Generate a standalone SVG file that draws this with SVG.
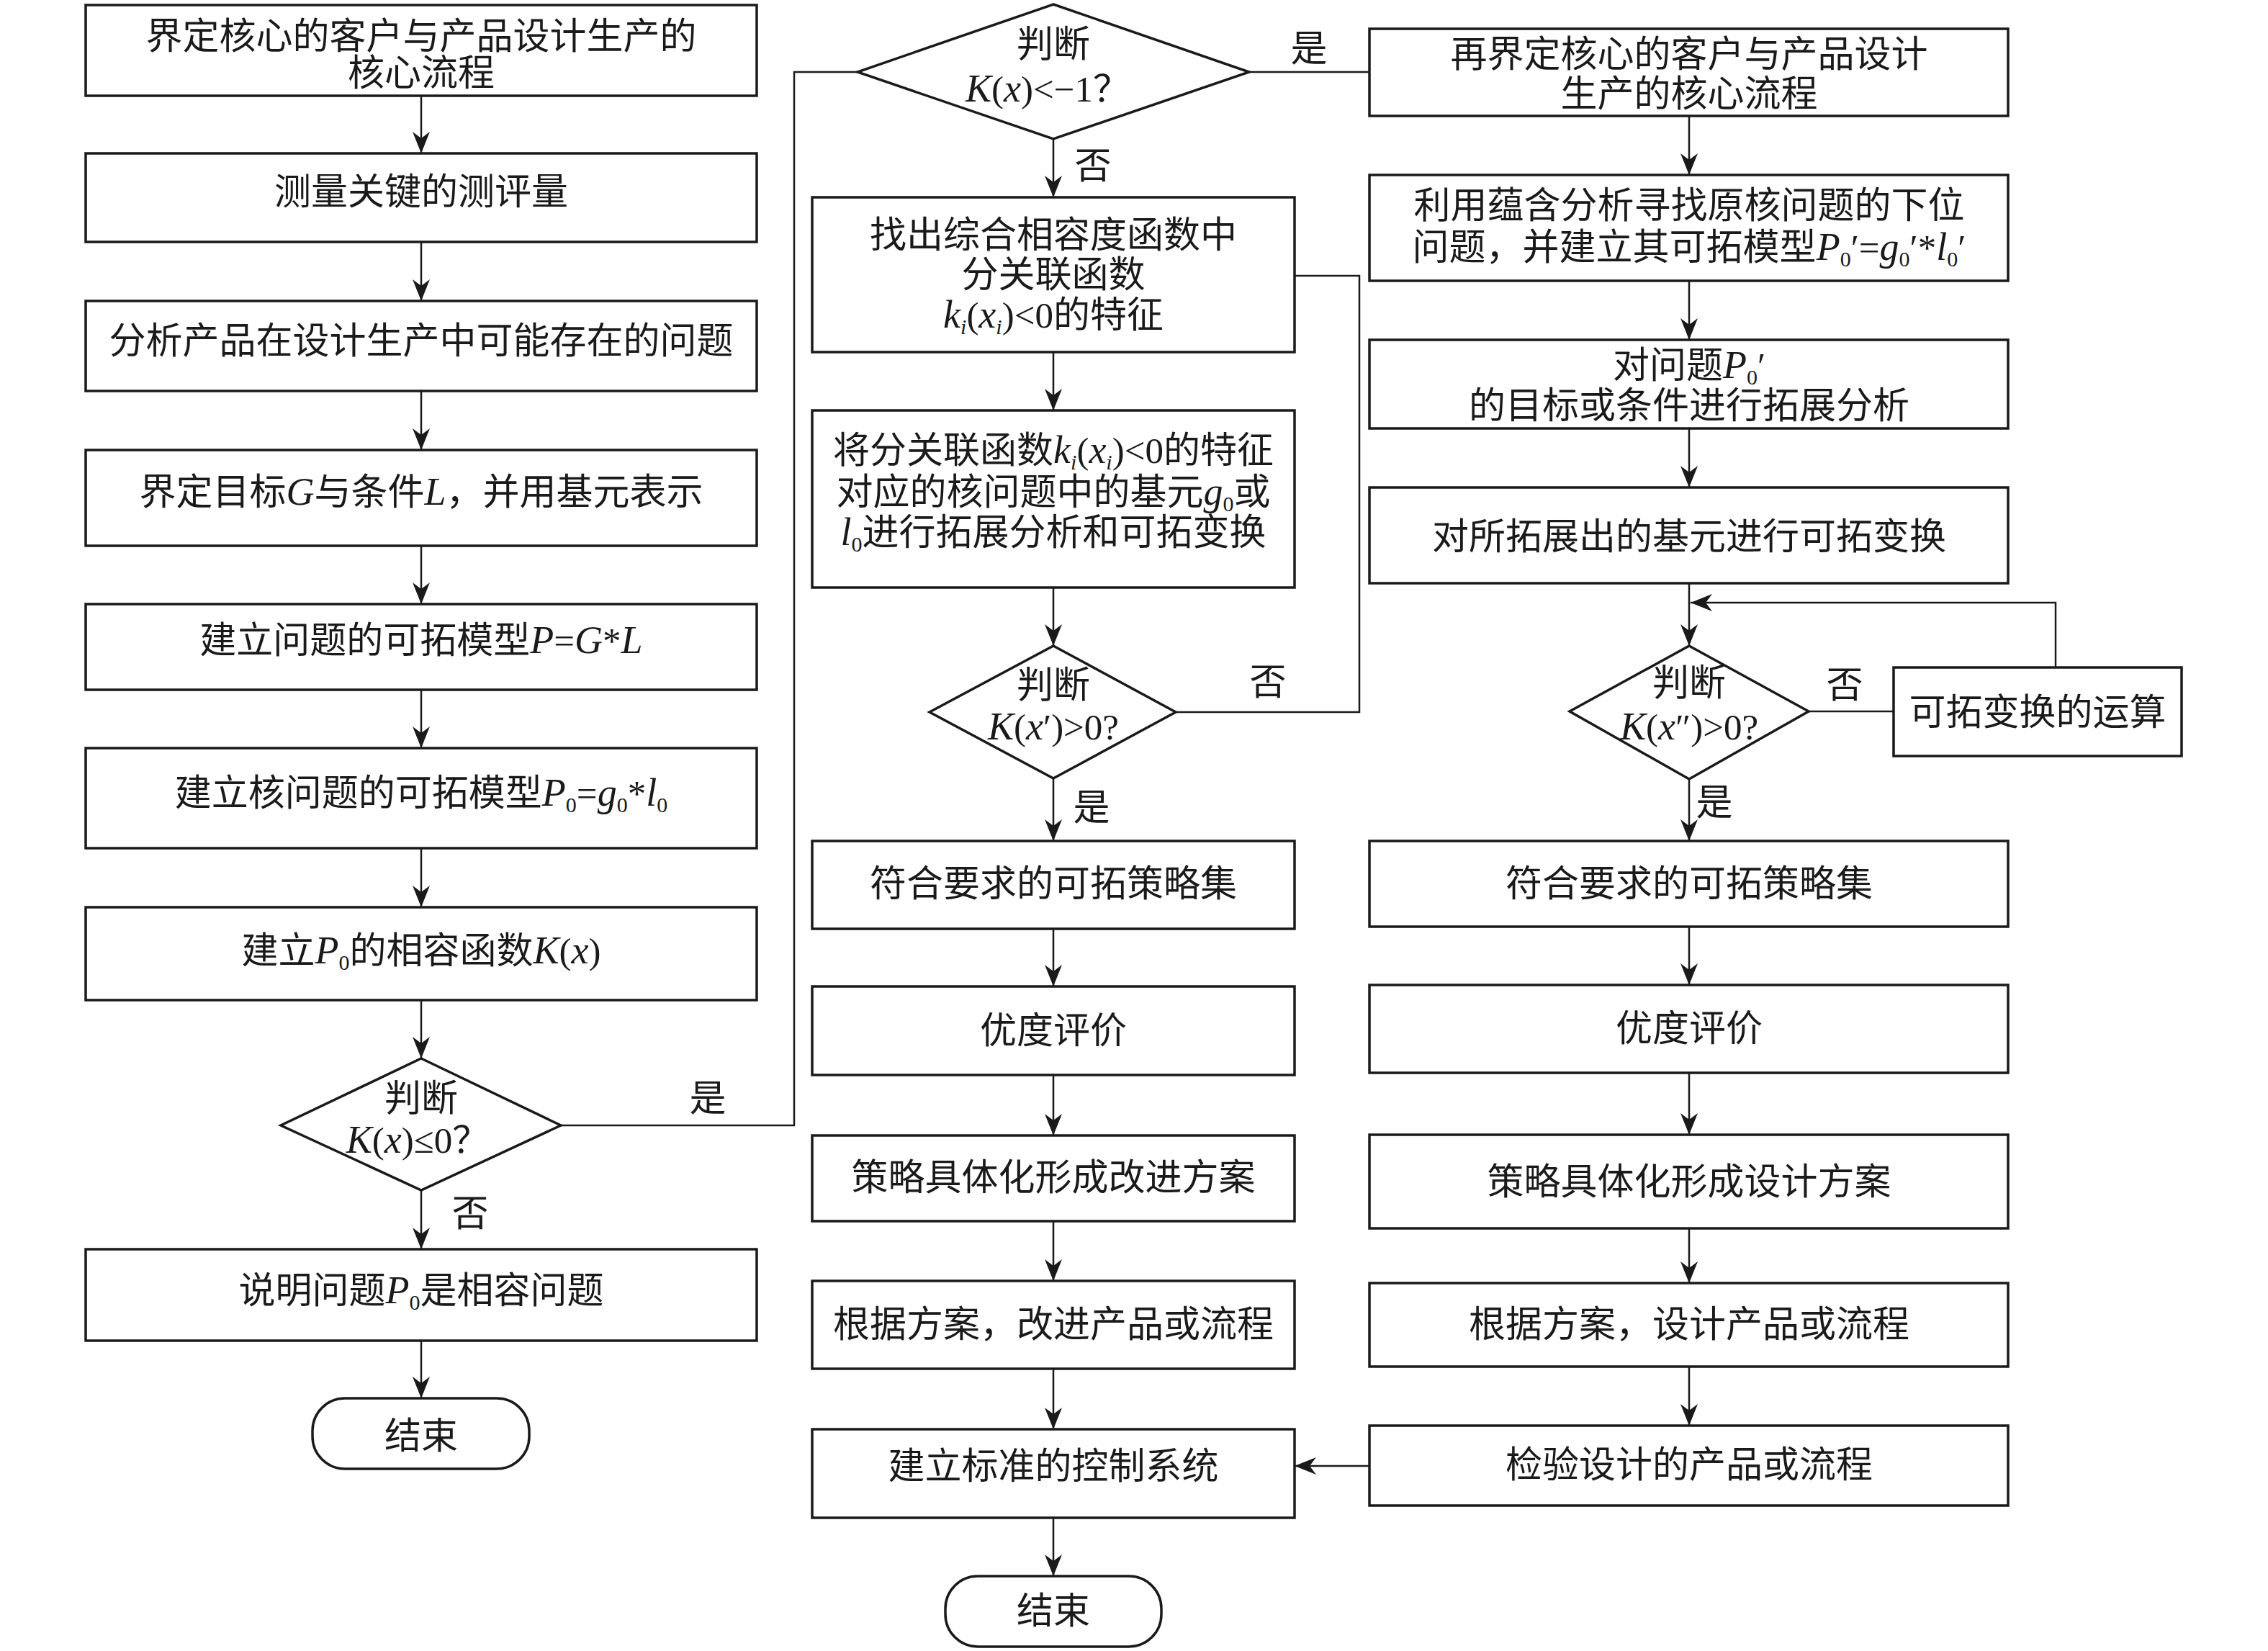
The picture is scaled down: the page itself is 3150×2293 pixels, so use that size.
<svg xmlns="http://www.w3.org/2000/svg" width="3150" height="2293" viewBox="0 0 3150 2293">
<style>
.b{fill:#fff;stroke:#1a1a1a;stroke-width:3.5}
.c{fill:none;stroke:#1a1a1a;stroke-width:2.5}
.t{font-family:'Liberation Serif','Noto Sans CJK SC',serif;font-size:51px;fill:#1a1a1a;text-anchor:middle}
.i{font-style:italic;font-size:54px}
.s{font-size:30px}
.si{font-size:30px;font-style:italic}
</style>
<defs>
<marker id="ah" markerUnits="userSpaceOnUse" viewBox="0 0 30 24" refX="30" refY="12" markerWidth="30" markerHeight="24" orient="auto">
<path d="M0,0 L30,12 L0,24 L9,12 Z" fill="#1a1a1a"/>
</marker>
</defs>
<rect width="3150" height="2293" fill="#fff"/>
<g id="connectors">
<line class="c" x1="585" y1="133" x2="585" y2="213" marker-end="url(#ah)"/>
<line class="c" x1="585" y1="336" x2="585" y2="418" marker-end="url(#ah)"/>
<line class="c" x1="585" y1="543" x2="585" y2="625" marker-end="url(#ah)"/>
<line class="c" x1="585" y1="758" x2="585" y2="839" marker-end="url(#ah)"/>
<line class="c" x1="585" y1="958" x2="585" y2="1039" marker-end="url(#ah)"/>
<line class="c" x1="585" y1="1178" x2="585" y2="1260" marker-end="url(#ah)"/>
<line class="c" x1="585" y1="1389" x2="585" y2="1470" marker-end="url(#ah)"/>
<line class="c" x1="585" y1="1653" x2="585" y2="1735" marker-end="url(#ah)"/>
<line class="c" x1="585" y1="1862" x2="585" y2="1942" marker-end="url(#ah)"/>
<polyline class="c" points="779,1563 1103,1563 1103,100 1191,100"/>
<line class="c" x1="1735" y1="100" x2="1902" y2="100"/>
<line class="c" x1="1463" y1="193" x2="1463" y2="274" marker-end="url(#ah)"/>
<line class="c" x1="1463" y1="489" x2="1463" y2="570" marker-end="url(#ah)"/>
<line class="c" x1="1463" y1="816" x2="1463" y2="897" marker-end="url(#ah)"/>
<polyline class="c" points="1633,989 1888,989 1888,383 1798,383"/>
<line class="c" x1="1463" y1="1081" x2="1463" y2="1168" marker-end="url(#ah)"/>
<line class="c" x1="1463" y1="1290" x2="1463" y2="1370" marker-end="url(#ah)"/>
<line class="c" x1="1463" y1="1493" x2="1463" y2="1577" marker-end="url(#ah)"/>
<line class="c" x1="1463" y1="1696" x2="1463" y2="1779" marker-end="url(#ah)"/>
<line class="c" x1="1463" y1="1901" x2="1463" y2="1985" marker-end="url(#ah)"/>
<line class="c" x1="1463" y1="2108" x2="1463" y2="2189" marker-end="url(#ah)"/>
<line class="c" x1="2346" y1="161" x2="2346" y2="243" marker-end="url(#ah)"/>
<line class="c" x1="2346" y1="390" x2="2346" y2="472" marker-end="url(#ah)"/>
<line class="c" x1="2346" y1="595" x2="2346" y2="677" marker-end="url(#ah)"/>
<line class="c" x1="2346" y1="810" x2="2346" y2="897" marker-end="url(#ah)"/>
<line class="c" x1="2512" y1="988" x2="2630" y2="988"/>
<polyline class="c" points="2855,927 2855,837 2348,837" marker-end="url(#ah)"/>
<line class="c" x1="2346" y1="1082" x2="2346" y2="1168" marker-end="url(#ah)"/>
<line class="c" x1="2346" y1="1287" x2="2346" y2="1368" marker-end="url(#ah)"/>
<line class="c" x1="2346" y1="1490" x2="2346" y2="1576" marker-end="url(#ah)"/>
<line class="c" x1="2346" y1="1706" x2="2346" y2="1782" marker-end="url(#ah)"/>
<line class="c" x1="2346" y1="1898" x2="2346" y2="1980" marker-end="url(#ah)"/>
<line class="c" x1="1902" y1="2036" x2="1798" y2="2036" marker-end="url(#ah)"/>
<text class="t" x="983" y="1543">是</text>
<text class="t" x="653" y="1703">否</text>
<text class="t" x="1818" y="85">是</text>
<text class="t" x="1518" y="248">否</text>
<text class="t" x="1761" y="965">否</text>
<text class="t" x="1516" y="1139">是</text>
<text class="t" x="2562" y="969">否</text>
<text class="t" x="2381" y="1132">是</text>
</g>
<g id="n1"><rect class="b" x="119" y="7" width="932" height="126"/><text class="t" x="585" y="68">界定核心的客户与产品设计生产的</text><text class="t" x="585" y="119">核心流程</text></g>
<g id="n2"><rect class="b" x="119" y="213" width="932" height="123"/><text class="t" x="585" y="284">测量关键的测评量</text></g>
<g id="n3"><rect class="b" x="119" y="418" width="932" height="125"/><text class="t" x="585" y="491">分析产品在设计生产中可能存在的问题</text></g>
<g id="n4"><rect class="b" x="119" y="625" width="932" height="133"/><text class="t" x="585" y="701">界定目标<tspan class="i">G</tspan>与条件<tspan class="i">L</tspan>，并用基元表示</text></g>
<g id="n5"><rect class="b" x="119" y="839" width="932" height="119"/><text class="t" x="585" y="907">建立问题的可拓模型<tspan class="i">P</tspan>=<tspan class="i">G</tspan>*<tspan class="i">L</tspan></text></g>
<g id="n6"><rect class="b" x="119" y="1039" width="932" height="139"/><text class="t" x="585" y="1119">建立核问题的可拓模型<tspan class="i">P</tspan><tspan class="s" dy="9">0</tspan><tspan dy="-9">=</tspan><tspan class="i">g</tspan><tspan class="s" dy="9">0</tspan><tspan dy="-9">*</tspan><tspan class="i">l</tspan><tspan class="s" dy="9">0</tspan></text></g>
<g id="n7"><rect class="b" x="119" y="1260" width="932" height="129"/><text class="t" x="585" y="1338">建立<tspan class="i">P</tspan><tspan class="s" dy="9">0</tspan><tspan dy="-9">的相容函数</tspan><tspan class="i">K</tspan>(<tspan class="i">x</tspan>)</text></g>
<g id="d1"><polygon class="b" points="585,1470 779,1563 585,1653 390,1563"/><text class="t" x="585" y="1543">判断</text><text class="t" x="580" y="1601"><tspan class="i">K</tspan>(<tspan class="i">x</tspan>)≤0？</text></g>
<g id="n8"><rect class="b" x="119" y="1735" width="932" height="127"/><text class="t" x="585" y="1810">说明问题<tspan class="i">P</tspan><tspan class="s" dy="9">0</tspan><tspan dy="-9">是相容问题</tspan></text></g>
<g id="e1"><rect class="b" x="434" y="1942" width="301" height="98" rx="45"/><text class="t" x="585" y="2012">结束</text></g>
<g id="d2"><polygon class="b" points="1463,6 1735,100 1463,193 1191,100"/><text class="t" x="1463" y="79">判断</text><text class="t" x="1455" y="141"><tspan class="i">K</tspan>(<tspan class="i">x</tspan>)&lt;−1？</text></g>
<g id="m1"><rect class="b" x="1128" y="274" width="670" height="215"/><text class="t" x="1463" y="344">找出综合相容度函数中</text><text class="t" x="1463" y="399">分关联函数</text><text class="t" x="1463" y="455"><tspan class="i">k</tspan><tspan class="si" dy="9">i</tspan><tspan dy="-9">(</tspan><tspan class="i">x</tspan><tspan class="si" dy="9">i</tspan><tspan dy="-9">)&lt;0的特征</tspan></text></g>
<g id="m2"><rect class="b" x="1128" y="570" width="670" height="246"/><text class="t" x="1463" y="643">将分关联函数<tspan class="i">k</tspan><tspan class="si" dy="9">i</tspan><tspan dy="-9">(</tspan><tspan class="i">x</tspan><tspan class="si" dy="9">i</tspan><tspan dy="-9">)&lt;0的特征</tspan></text><text class="t" x="1463" y="701">对应的核问题中的基元<tspan class="i">g</tspan><tspan class="s" dy="9">0</tspan><tspan dy="-9">或</tspan></text><text class="t" x="1463" y="757"><tspan class="i">l</tspan><tspan class="s" dy="9">0</tspan><tspan dy="-9">进行拓展分析和可拓变换</tspan></text></g>
<g id="d3"><polygon class="b" points="1463,897 1633,989 1463,1081 1291,989"/><text class="t" x="1463" y="969">判断</text><text class="t" x="1463" y="1027"><tspan class="i">K</tspan>(<tspan class="i">x</tspan>′)&gt;0?</text></g>
<g id="m3"><rect class="b" x="1128" y="1168" width="670" height="122"/><text class="t" x="1463" y="1245">符合要求的可拓策略集</text></g>
<g id="m4"><rect class="b" x="1128" y="1370" width="670" height="123"/><text class="t" x="1463" y="1449">优度评价</text></g>
<g id="m5"><rect class="b" x="1128" y="1577" width="670" height="119"/><text class="t" x="1463" y="1653">策略具体化形成改进方案</text></g>
<g id="m6"><rect class="b" x="1128" y="1779" width="670" height="122"/><text class="t" x="1463" y="1857">根据方案，改进产品或流程</text></g>
<g id="m7"><rect class="b" x="1128" y="1985" width="670" height="123"/><text class="t" x="1463" y="2054">建立标准的控制系统</text></g>
<g id="e2"><rect class="b" x="1313" y="2189" width="300" height="98" rx="45"/><text class="t" x="1463" y="2255">结束</text></g>
<g id="r1"><rect class="b" x="1902" y="40" width="887" height="121"/><text class="t" x="2346" y="93">再界定核心的客户与产品设计</text><text class="t" x="2346" y="148">生产的核心流程</text></g>
<g id="r2"><rect class="b" x="1902" y="243" width="887" height="147"/><text class="t" x="2346" y="303">利用蕴含分析寻找原核问题的下位</text><text class="t" x="2346" y="361">问题，并建立其可拓模型<tspan class="i">P</tspan><tspan class="s" dy="9">0</tspan><tspan dy="-9">′=</tspan><tspan class="i">g</tspan><tspan class="s" dy="9">0</tspan><tspan dy="-9">′*</tspan><tspan class="i">l</tspan><tspan class="s" dy="9">0</tspan><tspan dy="-9">′</tspan></text></g>
<g id="r3"><rect class="b" x="1902" y="472" width="887" height="123"/><text class="t" x="2346" y="525">对问题<tspan class="i">P</tspan><tspan class="s" dy="9">0</tspan><tspan dy="-9">′</tspan></text><text class="t" x="2346" y="581">的目标或条件进行拓展分析</text></g>
<g id="r4"><rect class="b" x="1902" y="677" width="887" height="133"/><text class="t" x="2346" y="763">对所拓展出的基元进行可拓变换</text></g>
<g id="d4"><polygon class="b" points="2346,897 2512,988 2346,1082 2180,988"/><text class="t" x="2346" y="966">判断</text><text class="t" x="2346" y="1027"><tspan class="i">K</tspan>(<tspan class="i">x</tspan>″)&gt;0?</text></g>
<g id="r5"><rect class="b" x="2630" y="927" width="400" height="123"/><text class="t" x="2830" y="1007">可拓变换的运算</text></g>
<g id="r6"><rect class="b" x="1902" y="1168" width="887" height="119"/><text class="t" x="2346" y="1245">符合要求的可拓策略集</text></g>
<g id="r7"><rect class="b" x="1902" y="1368" width="887" height="122"/><text class="t" x="2346" y="1446">优度评价</text></g>
<g id="r8"><rect class="b" x="1902" y="1576" width="887" height="130"/><text class="t" x="2346" y="1659">策略具体化形成设计方案</text></g>
<g id="r9"><rect class="b" x="1902" y="1782" width="887" height="116"/><text class="t" x="2346" y="1857">根据方案，设计产品或流程</text></g>
<g id="r10"><rect class="b" x="1902" y="1980" width="887" height="111"/><text class="t" x="2346" y="2052">检验设计的产品或流程</text></g>
</svg>
